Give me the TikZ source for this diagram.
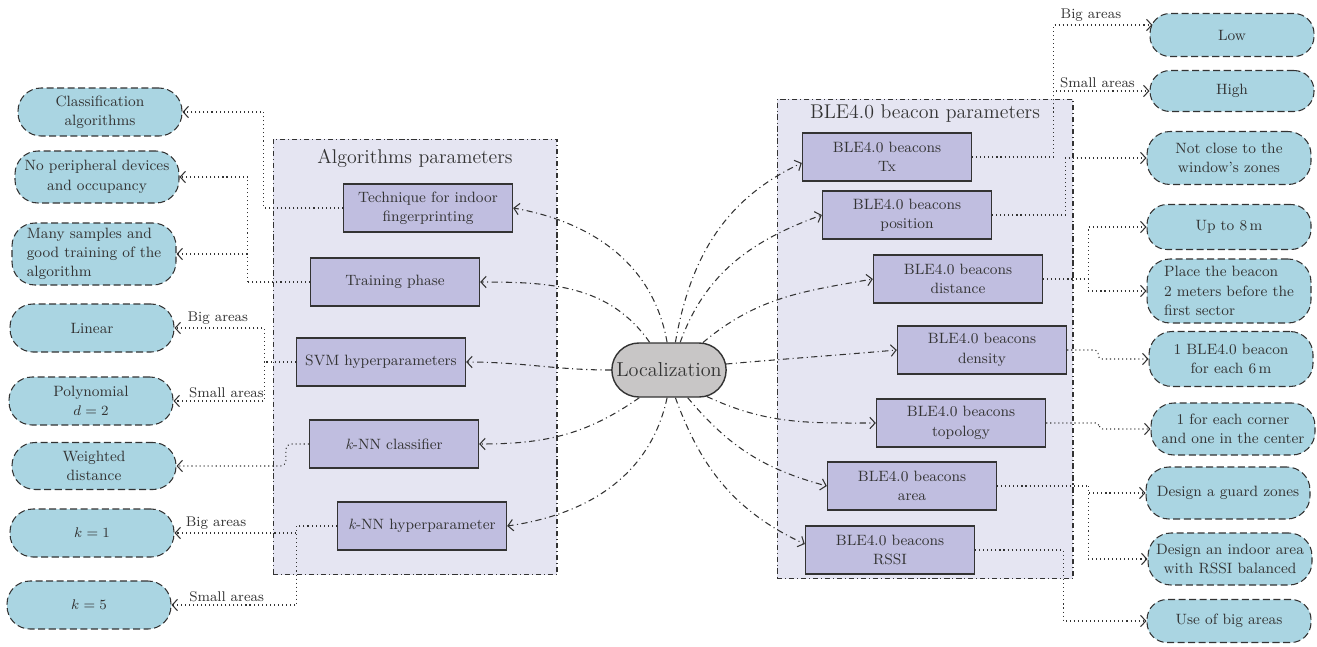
\documentclass[tikz,border=0pt]{standalone}
\usetikzlibrary{arrows.meta,calc,shapes.misc}
\definecolor{leaffill}{RGB}{170,213,226}
\definecolor{boxfill}{RGB}{192,190,224}
\definecolor{framefill}{RGB}{229,229,242}
\definecolor{locfill}{RGB}{200,198,198}
\definecolor{ink}{RGB}{51,51,51}
\tikzset{
  box/.style={draw=ink, line width=0.8pt, fill=boxfill, minimum width=3.38cm, minimum height=0.96cm,
    align=center, font=\fontsize{8.5}{11}\selectfont, text=ink, inner sep=1pt},
  leaf/.style={rectangle, rounded corners=0.46cm, draw=ink, line width=0.6pt, dash pattern=on 4pt off 2pt, fill=leaffill,
    minimum width=3.28cm, align=center, font=\fontsize{8.5}{11}\selectfont, text=ink, inner sep=1pt},
  smallleaf/.style={leaf, rounded corners=0.4cm},
  frame/.style={draw=ink, line width=0.6pt, fill=framefill, dash pattern=on 3pt off 1.6pt on 0.6pt off 1.6pt},
  ttl/.style={font=\fontsize{11.3}{13}\selectfont, text=ink, inner sep=0pt},
  dd/.style={draw=ink, line width=0.6pt, dash pattern=on 3.5pt off 2pt on 0.6pt off 2pt,
    -{Straight Barb[length=3pt,width=6.5pt]}},
  dot/.style={draw=ink, line width=0.6pt, dash pattern=on 0.6pt off 1.7pt,
    -{Straight Barb[length=3pt,width=6.5pt]}},
  lab/.style={font=\fontsize{8}{9.5}\selectfont, text=ink, inner sep=1.5pt},
}
\begin{document}
\begin{tikzpicture}[x=0.02cm,y=-0.02cm]
\useasboundingbox (0,0) rectangle (1317,646);

% frames
\node[frame, minimum width=5.68cm, minimum height=8.72cm] (lframe) at (415,357) {};
\node[frame, minimum width=5.92cm, minimum height=9.6cm] (rframe) at (925,339) {};
\node[ttl] (ltitle) at (415,158) {Algorithms parameters};
\node[ttl] (rtitle) at (925,114) {BLE4.0 beacon parameters};

% center
\node[rounded rectangle, draw=ink, line width=0.8pt, fill=locfill, minimum width=2.52cm, minimum height=1.08cm,
  font=\fontsize{11.5}{13}\selectfont, text=ink] (loc) at (669,370) {Localization};

% left boxes
\node[box] (tech) at (428,208) {Technique for indoor\\fingerprinting};
\node[box] (train) at (395,282) {Training phase};
\node[box] (svm) at (381,362) {SVM hyperparameters};
\node[box] (knnc) at (394,444) {\textit{k}-NN classifier};
\node[box] (knnh) at (422,526) {\textit{k}-NN hyperparameter};

% right boxes
\node[box] (tx) at (887,157) {BLE4.0 beacons\\Tx};
\node[box] (pos) at (907,215) {BLE4.0 beacons\\position};
\node[box] (dist) at (958,279) {BLE4.0 beacons\\distance};
\node[box] (dens) at (982,350) {BLE4.0 beacons\\density};
\node[box] (topo) at (961,423) {BLE4.0 beacons\\topology};
\node[box] (area) at (912,486) {BLE4.0 beacons\\area};
\node[box] (rssi) at (890,550) {BLE4.0 beacons\\RSSI};

% left leaves
\node[leaf, minimum height=0.96cm] (cls) at (100,112) {Classification\\algorithms};
\node[leaf, minimum height=1.04cm] (noper) at (97,177) {No peripheral devices\\and occupancy};
\node[leaf, minimum height=1.24cm, align=left] (many) at (94,254) {Many samples and\\good training of the\\algorithm};
\node[leaf, minimum height=0.96cm] (lin) at (92,328) {Linear};
\node[leaf, minimum height=0.96cm] (poly) at (91,401) {Polynomial\\$d=2$};
\node[leaf, minimum height=0.94cm] (wdist) at (94,466) {Weighted\\distance};
\node[leaf, minimum height=0.96cm] (k1) at (92,533) {$k=1$};
\node[leaf, minimum height=0.96cm] (k5) at (89,605) {$k=5$};

% right leaves
\node[smallleaf, minimum height=0.86cm] (low) at (1232,35) {Low};
\node[smallleaf, minimum height=0.82cm] (high) at (1232,91) {High};
\node[leaf, minimum height=1.06cm] (notclose) at (1229,158) {Not close to the\\window's zones};
\node[smallleaf, minimum height=0.9cm] (up8) at (1229,227) {Up to 8\,m};
\node[leaf, minimum height=1.28cm, align=left] (place) at (1229,291) {Place the beacon\\2 meters before the\\first sector};
\node[leaf, minimum height=1.1cm] (one) at (1231,359) {1 BLE4.0 beacon\\for each 6\,m};
\node[leaf, minimum height=1.04cm] (corner) at (1233,429) {1 for each corner\\and one in the center};
\node[leaf, minimum height=1.04cm] (guard) at (1228,493) {Design a guard zones};
\node[leaf, minimum height=1.04cm] (indoor) at (1230,559) {Design an indoor area\\with RSSI balanced};
\node[smallleaf, minimum height=0.86cm] (big) at (1229,621) {Use of big areas};

% center curves
\draw[dd] (loc.94) to[out=100,in=-10] (tech.east);
\draw[dd] (loc.125) to[out=125,in=0] (train.east);
\draw[dd] (loc.west) to[out=180,in=0] (svm.east);
\draw[dd] (loc.223) to[out=215,in=0] (knnc.east);
\draw[dd] (loc.266) to[out=258,in=8] (knnh.east);
\draw[dd] (loc.77) to[out=80,in=205] (tx.184);
\draw[dd] (loc.68) to[out=70,in=200] (pos.west);
\draw[dd] (loc.39) to[out=40,in=190] (dist.west);
\draw[dd] (loc.6) to[out=5,in=185] (dens.west);
\draw[dd] (loc.325) to[out=-25,in=180] (topo.west);
\draw[dd] (loc.304) to[out=-50,in=165] (area.west);
\draw[dd] (loc.283) to[out=-70,in=155] (rssi.176);

% left connectors
\draw[dot] (tech.west) -- ++(-79,0) |- (cls.east);
\draw[dot,-] (train.west) -- ++(-62,0) coordinate (trj);
\draw[dot] (trj) |- (noper.east);
\draw[dot] (trj) |- (many.east);
\draw[dot,-] (svm.west) -- ++(-31,0) coordinate (svj);
\draw[dot] (svj) |- node[lab,pos=0.76,above]{Big areas} (lin.east);
\draw[dot] (svj) |- node[lab,pos=0.71,above]{Small areas} (poly.east);
\draw[dot,rounded corners=3pt] (knnc.west) -- ++(-23,0) |- (wdist.east);
\draw[dot,-] (knnh.west) -- ++(-40,0) coordinate (khj);
\draw[dot] (khj) |- node[lab,pos=0.83,above]{Big areas} (k1.east);
\draw[dot] (khj) |- node[lab,pos=0.78,above]{Small areas} (k5.east);

% right connectors
\draw[dot,-] (tx.east) -- ++(81,0) coordinate (txj);
\draw[dot] (txj) |- node[lab,pos=0.69,above]{Big areas} ($(low.west)+(3,-10)$);
\draw[dot] (txj) |- node[lab,pos=0.73,above]{Small areas} (high.west);
\draw[dot] (pos.east) -- ++(73,0) |- (notclose.west);
\draw[dot,-] (dist.east) -- ++(45,0) coordinate (dj);
\draw[dot] (dj) |- (up8.west);
\draw[dot] (dj) |- (place.west);
\draw[dot,rounded corners=2pt] (dens.east) -- ++(31,0) |- (one.west);
\draw[dot,rounded corners=2pt] (topo.east) -- ++(53,0) |- (corner.west);
\draw[dot,-] (area.east) -- ++(91,0) coordinate (aj);
\draw[dot] (aj) |- (guard.west);
\draw[dot] (aj) |- (indoor.west);
\draw[dot] (rssi.east) -- ++(88,0) |- (big.west);
\end{tikzpicture}
\end{document}
